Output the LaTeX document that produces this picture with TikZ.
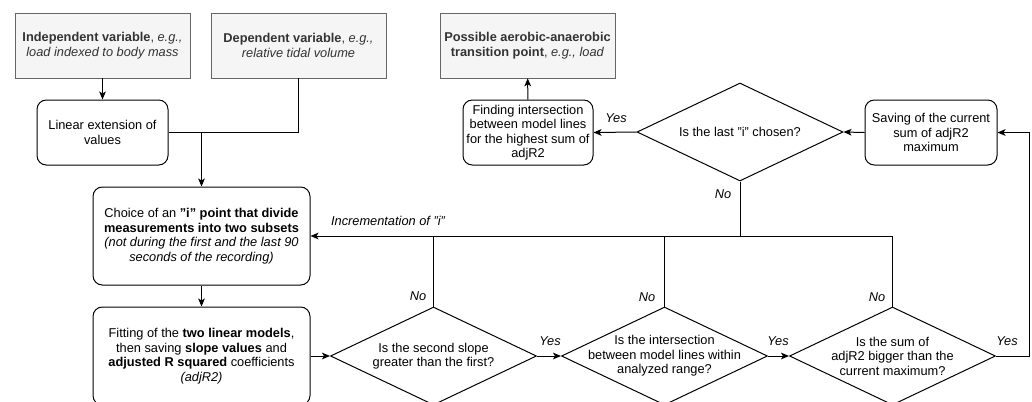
\documentclass[tikz,border=0pt]{standalone}
\usepackage{fontspec}
\setmainfont{Liberation Sans}
\usepackage{xcolor}
\usetikzlibrary{arrows.meta,shapes.geometric}

\definecolor{boxgray}{HTML}{F5F5F5}
\definecolor{linegray}{HTML}{666666}
\definecolor{textgray}{HTML}{333333}

\begin{document}
\begin{tikzpicture}[x=0.75pt,y=0.75pt,yscale=-1,xscale=1,
  font=\fontsize{9.6pt}{10.9pt}\selectfont,
  inbox/.style={draw=linegray,fill=boxgray,text=textgray,align=center,minimum width=131.25pt,minimum height=48.75pt,inner sep=0pt},
  stepbox/.style={draw,rounded corners=7pt,align=center,inner sep=0pt,line width=0.75pt},
  decision/.style={draw,diamond,inner sep=0pt,minimum width=154.5pt,minimum height=73.5pt,line width=0.75pt},
  arr/.style={-{Stealth[length=6pt,width=5pt,inset=1.5pt]},line width=0.75pt},
  lnk/.style={line width=0.75pt},
  answer/.style={font=\fontsize{9.6pt}{10.9pt}\selectfont\itshape,inner sep=0pt}]

\useasboundingbox (0,0) rectangle (1032,401);

\node (indep) at (102.5,45.5) [inbox] {\textbf{Independent variable}, \textit{e.g.,}\\\textit{load indexed to body mass}};

\node (dep) at (298.5,45.5) [inbox] {\textbf{Dependent variable}, \textit{e.g.,}\\\textit{relative tidal volume}};

\node (point) at (527.5,45.5) [inbox] {\textbf{Possible aerobic-anaerobic}\\\textbf{transition point}, \textit{e.g., load}};

\node (linear) at (102.5,132.5) [stepbox,minimum width=98.25pt,minimum height=48.75pt] {Linear extension of\\values};

\node (choice) at (201.5,236) [stepbox,minimum width=162.75pt,minimum height=73.5pt] {Choice of an \textbf{"i" point that divide}\\\textbf{measurements into two subsets}\\\textit{(not during the first and the last 90}\\\textit{seconds of the recording)}};

\node (fitting) at (201.5,356) [stepbox,minimum width=162.75pt,minimum height=73.5pt] {Fitting of the \textbf{two linear models},\\then saving \textbf{slope values} and\\\textbf{adjusted R squared} coefficients\\\textit{(adjR2)}};

\node (finding) at (528,132.5) [stepbox,minimum width=97.5pt,minimum height=48.75pt] {Finding intersection\\between model lines\\for the highest sum of\\adjR2};

\node (saving) at (931,132.5) [stepbox,minimum width=99pt,minimum height=48.75pt] {Saving of the current\\sum of adjR2\\maximum};

\node (lastq) at (740,132) [decision,label={[align=center]center:Is the last "i" chosen?}] {};

\node (slopeq) at (433.5,356) [decision,label={[align=center]center:Is the second slope\\greater than the first?}] {};

\node (rangeq) at (664.5,356) [decision,label={[align=center]center:Is the intersection\\between model lines within\\analyzed range?}] {};

\node (sumq) at (892.5,356) [decision,label={[align=center]center:Is the sum of\\adjR2 bigger than the\\current maximum?}] {};

\coordinate (join) at (choice.north |- linear.east);

\draw [arr] (indep) -- (linear);
\draw [lnk] (dep.south) |- (join);
\draw [lnk] (linear.east) -- (join);
\draw [arr] (join) -- (choice.north);
\draw [arr] (choice) -- (fitting);
\draw [arr] (fitting.east) -- (slopeq.west);
\draw [arr] (slopeq.east) -- (rangeq.west);
\draw [arr] (rangeq.east) -- (sumq.west);
\draw [arr] (sumq.east) -- ++(33,0) |- (saving.east);
\draw [arr] (saving.west) -- (lastq.east);
\draw [arr] (lastq.west) -- (finding.east);
\draw [arr] (finding) -- (point);
\draw [arr] (lastq.south) |- (choice.east);
\draw [lnk] (slopeq.north) -- (slopeq.north |- choice.east);
\draw [lnk] (rangeq.north) -- (rangeq.north |- choice.east);
\draw [lnk] (sumq.north) |- (lastq.south |- choice.east);

\node (yeslast) at (616,118) [answer] {Yes};
\node (nolast) at (723,194) [answer] {No};
\node (incr) at (388,221) [answer] {Incrementation of "i"};
\node (noslope) at (418,296) [answer] {No};
\node (norange) at (647,297) [answer] {No};
\node (nosum) at (877,297) [answer] {No};
\node (yesslope) at (550,341) [answer] {Yes};
\node (yesrange) at (778,341) [answer] {Yes};
\node (yessum) at (1007,341) [answer] {Yes};

\end{tikzpicture}
\end{document}
